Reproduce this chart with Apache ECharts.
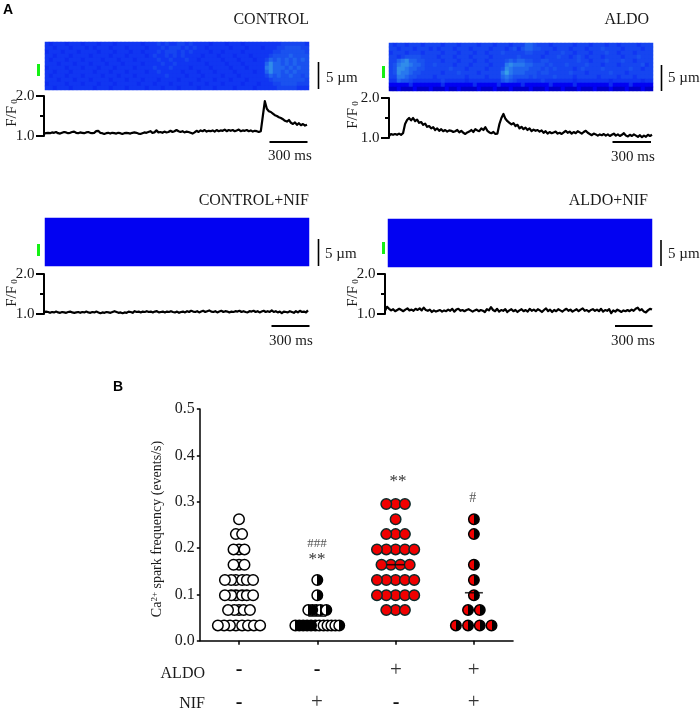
<!DOCTYPE html>
<html><head><meta charset="utf-8">
<script src="https://cdn.jsdelivr.net/npm/echarts@6/dist/echarts.min.js"></script>
<style>html,body{margin:0;padding:0;background:#fff}#c{width:700px;height:710px}</style>
</head><body><div id="c"></div>
<script>
// ---------- line-scan images: fluorescence level per cell (0-9), row by row ----------
const imgControl = [
"32333233323 33233323333 33233343433 44343333233 32333233333 33334444443",
"33233323332 32333233323 33323334344 43434332333 33233323332 33344555544",
"23332333233 33233323332 33233343444 34343333233 23333233333 33445555554",
"33233323333 23333233323 33323433434 34333323332 33323332333 34555565555",
"32333233323 33323332333 23333343343 33433233333 23332333233 46565656565",
"33323332333 23332333233 33233334334 33333332333 32333233333 68665656555",
"23333233323 33233323333 23333433343 33323333233 33233323333 78666565655",
"33233323333 32333233323 33323343333 32333233323 33323333233 68665656555",
"32333233323 33323332333 23333333433 33233323333 23332333333 46565565545",
"33323332333 23333233323 33233323333 23333233323 33233323333 34555555554",
"23333233323 33233323333 32333233323 33323332333 23333233323 33445555444",
"33233323333 32333233323 33323332333 23333233323 33323333233 33344444333"];
const imgAldo = [
"43443444344 44344434444 34443444344 46654443444 44344434443 44344443444",
"44344434443 43444344434 44434443453 56655444344 43444344454 44434444344",
"34443444344 44344434443 44344454444 45544434445 44344434445 44344434444",
"44345555444 43444344434 44434444445 44444344454 43454344434 44434445444",
"44678665544 44344434443 44344445656 65544554444 44454434445 44454434444",
"45788766544 54444344434 44434447877 76655545444 54444544434 44344444534",
"45887665544 44445444344 44344458766 66555454544 44345444454 44444544344",
"45877655444 44344454444 34444479766 65554554444 45444344444 54443444444",
"44776554444 34444444344 44344467655 55454444544 44344444344 44344434444",
"33655433333 33433333233 33333356543 33333433333 33233333333 23333333233",
"11111211111 11211111112 11111211111 21111112111 11211111111 21111211111",
"00100010001 00010010000 10001000100 00100010001 00010001000 10001000100"];
const imgControlNif = ["1"];
const imgAldoNif = ["1"];
const imgPalette = ["#0000c8","#0202f2","#0c2cf0","#1036f2","#1645f0","#1a52ef","#2064ef","#2878ee","#308cea","#38a0e8"];

// ---------- F/F0 traces ----------
const traceControl = [1.06,1.07,1.08,1.07,1.09,1.08,1.10,1.07,1.06,1.08,1.10,1.09,1.07,1.08,1.10,1.11,1.08,1.07,1.09,1.08,
1.07,1.09,1.10,1.08,1.07,1.08,1.12,1.13,1.08,1.07,1.05,1.07,1.08,1.06,1.08,1.07,1.06,1.08,1.07,1.05,
1.07,1.08,1.07,1.06,1.08,1.09,1.08,1.06,1.05,1.07,1.09,1.08,1.10,1.12,1.08,1.09,1.14,1.09,1.10,1.08,
1.11,1.09,1.10,1.13,1.10,1.12,1.15,1.12,1.10,1.12,1.09,1.11,1.10,1.08,1.06,1.09,1.13,1.10,1.14,1.12,
1.15,1.11,1.13,1.12,1.14,1.11,1.15,1.12,1.14,1.13,1.16,1.12,1.15,1.13,1.15,1.12,1.14,1.16,1.12,1.14,
1.13,1.15,1.12,1.14,1.11,1.13,1.12,1.10,1.12,1.50,1.87,1.68,1.62,1.60,1.56,1.52,1.50,1.47,1.45,1.42,
1.38,1.36,1.40,1.33,1.30,1.34,1.28,1.32,1.27,1.30,1.26,1.28];
const traceAldo = [1.05,1.10,1.08,1.10,1.08,1.11,1.08,1.12,1.35,1.45,1.50,1.44,1.50,1.42,1.46,1.38,1.40,1.33,1.36,1.28,
1.30,1.24,1.27,1.20,1.24,1.18,1.22,1.17,1.20,1.16,1.19,1.18,1.15,1.17,1.20,1.14,1.18,1.13,1.10,1.14,
1.16,1.20,1.15,1.22,1.19,1.17,1.24,1.20,1.27,1.18,1.14,1.12,1.15,1.10,1.11,1.35,1.50,1.60,1.48,1.42,
1.38,1.34,1.37,1.30,1.33,1.24,1.28,1.22,1.26,1.20,1.24,1.17,1.21,1.18,1.20,1.16,1.19,1.13,1.17,1.11,
1.15,1.12,1.14,1.16,1.11,1.13,1.10,1.14,1.18,1.13,1.16,1.11,1.15,1.12,1.17,1.14,1.11,1.15,1.18,1.13,
1.10,1.07,1.11,1.09,1.06,1.09,1.07,1.10,1.06,1.09,1.05,1.08,1.11,1.06,1.09,1.05,1.08,1.12,1.06,1.04,
1.08,1.05,1.09,1.06,1.03,1.07,1.02,1.06,1.03,1.08,1.05,1.08];
const traceControlNif = [1.04,1.06,1.05,1.03,1.05,1.04,1.06,1.04,1.03,1.05,1.04,1.03,1.05,1.06,1.04,1.03,1.04,1.05,1.03,1.05,
1.04,1.06,1.04,1.03,1.05,1.04,1.06,1.04,1.02,1.04,1.03,1.05,1.04,1.03,1.05,1.07,1.05,1.03,1.04,1.02,
1.04,1.03,1.06,1.05,1.03,1.07,1.05,1.06,1.04,1.06,1.05,1.07,1.05,1.06,1.04,1.06,1.07,1.04,1.05,1.06,
1.04,1.06,1.05,1.07,1.05,1.04,1.06,1.03,1.05,1.06,1.04,1.07,1.05,1.08,1.06,1.05,1.07,1.04,1.06,1.08,
1.05,1.07,1.09,1.06,1.05,1.07,1.04,1.06,1.08,1.05,1.07,1.06,1.04,1.06,1.05,1.07,1.06,1.08,1.05,1.07,
1.05,1.04,1.07,1.06,1.08,1.05,1.07,1.04,1.06,1.08,1.05,1.07,1.05,1.09,1.05,1.07,1.04,1.06,1.02,1.06,
1.05,1.04,1.07,1.05,1.03,1.07,1.04,1.08,1.05,1.06,1.04,1.09];
const traceAldoNif = [1.08,1.18,1.13,1.09,1.12,1.07,1.10,1.13,1.10,1.07,1.11,1.14,1.09,1.11,1.08,1.13,1.10,1.14,1.09,1.16,
1.10,1.08,1.11,1.05,1.09,1.06,1.08,1.10,1.06,1.09,1.07,1.11,1.08,1.13,1.06,1.11,1.13,1.08,1.10,1.07,
1.10,1.12,1.09,1.06,1.09,1.11,1.07,1.10,1.08,1.05,1.12,1.09,1.17,1.10,1.07,1.13,1.06,1.10,1.08,1.12,
1.05,1.09,1.12,1.07,1.10,1.05,1.09,1.12,1.07,1.10,1.06,1.13,1.08,1.11,1.07,1.12,1.09,1.05,1.10,1.14,
1.07,1.11,1.05,1.10,1.07,1.12,1.09,1.06,1.10,1.13,1.08,1.11,1.06,1.09,1.12,1.07,1.11,1.14,1.08,1.10,
1.06,1.10,1.12,1.08,1.11,1.07,1.13,1.06,1.10,1.08,1.12,1.02,1.09,1.06,1.11,1.08,1.05,1.09,1.07,1.10,
1.07,1.11,1.08,1.13,1.16,1.09,1.12,1.06,1.04,1.09,1.13,1.11];

// ---------- panel B: rows of the swarm. yLevels = Ca2+ spark frequency; each *Rows list holds
//            the horizontal swarm offsets (x-axis units) of the dots in that row ----------
const yLevels = [0.033,0.066,0.098,0.131,0.164,0.197,0.230,0.262,0.295];
const controlRows = [[-.27,-.19,-.115,-.04,.04,.115,.19,.27],[-.14,-.06,0,.06,.14],[-.18,-.10,-.04,.04,.10,.18],[-.18,-.10,-.04,.04,.10,.18],[-.07,0,.07],[-.07,0,.07],[-.04,.04],[0],[]];
const nifRows = [[-.28,-.23,-.18,-.13,-.08,-.025,.025,.08,.13,.18,.23,.28],[-.115,-.065,-.015,.04,.115],[0],[0],[],[],[],[],[]];
const aldoRows = [[],[-.119,0,.119],[-.238,-.119,0,.119,.238],[-.238,-.119,0,.119,.238],[-.18,-.06,.06,.18],[-.238,-.119,0,.119,.238],[-.119,0,.119],[0],[-.119,0,.119]];
const aldoNifRows = [[-.23,-.075,.075,.225],[-.075,.075],[0],[0],[0],[],[0],[0],[]];
const medians = [0.108,0.053,0.164,0.1035];
const yTicks = [0,0.1,0.2,0.3,0.4,0.5];
const aldoSigns = ["-","-","+","+"];
const nifSigns = ["-","+","-","+"];

// ---------- layout ----------
const SERIF = '"Liberation Serif","Times New Roman",serif';
const panels = [
 {img:imgControl, trace:traceControl, title:"CONTROL", imgL:45,imgT:42, axX:44,y2:96,y1:136,tW:263,
  titleR:309,titleY:20, fx:12,fy:113, barX:318.5,barT:62,barB:89, umX:326,umY:78, gX:37,gT:64, sL:269.5,sR:307.5,sY:142,msX:290,msY:156},
 {img:imgAldo, trace:traceAldo, title:"ALDO", imgL:389,imgT:43, axX:389,y2:98,y1:138,tW:263,
  titleR:649,titleY:20, fx:353,fy:115, barX:661.5,barT:65,barB:91, umX:668,umY:78, gX:382,gT:66, sL:612.5,sR:651,sY:142,msX:633,msY:157},
 {img:imgControlNif, trace:traceControlNif, title:"CONTROL+NIF", imgL:45,imgT:218, axX:44,y2:274,y1:314,tW:264,
  titleR:309,titleY:201, fx:12,fy:293, barX:318.5,barT:239,barB:266, umX:325,umY:254, gX:37,gT:244, sL:271.5,sR:309.5,sY:326,msX:291,msY:341},
 {img:imgAldoNif, trace:traceAldoNif, title:"ALDO+NIF", imgL:388,imgT:219, axX:385,y2:274,y1:314,tW:267,
  titleR:648,titleY:201, fx:353,fy:293, barX:661,barT:240,barB:266, umX:668,umY:254, gX:382,gT:242, sL:615,sR:652.5,sY:326,msX:633,msY:341}
];

const grids=[], xAxes=[], yAxes=[], series=[], gfx=[];
function txt(x,y,text,size,o){ gfx.push(Object.assign({type:'text',x,y,silent:true,style:Object.assign({text,font:`${size}px ${SERIF}`,fill:'#1a1a1a',align:'center',verticalAlign:'middle'},o||{})})); }
function line(x1,y1,x2,y2,w){ gfx.push({type:'line',silent:true,shape:{x1,y1,x2,y2},style:{stroke:'#000',lineWidth:w||1.6}}); }

const heatIdx=[];
panels.forEach(p=>{
  // image
  const rows=p.img.map(r=>r.replace(/ /g,''));
  const g=grids.length;
  grids.push({left:p.imgL,top:p.imgT,width:264,height:48,containLabel:false});
  xAxes.push({type:'category',gridIndex:g,show:false,data:rows[0].split('').map((_,i)=>i)});
  yAxes.push({type:'category',gridIndex:g,show:false,inverse:true,data:rows.map((_,i)=>i)});
  const d=[]; rows.forEach((r,j)=>r.split('').forEach((c,i)=>d.push([i,j,+c])));
  heatIdx.push(series.length);
  series.push({type:'heatmap',xAxisIndex:g,yAxisIndex:g,data:d,silent:true,animation:false,progressive:0,itemStyle:{borderWidth:0}});
  // trace
  const t=grids.length;
  grids.push({left:p.axX,top:p.y2,width:p.tW,height:p.y1-p.y2});
  xAxes.push({type:'category',gridIndex:t,show:false,boundaryGap:false,data:p.trace.map((_,i)=>i)});
  yAxes.push({type:'value',gridIndex:t,min:1,max:2,interval:1,
    axisLine:{show:true,lineStyle:{color:'#000',width:2}},
    axisTick:{show:true,length:8,lineStyle:{color:'#000',width:2}},
    minorTick:{show:true,splitNumber:2,length:4,lineStyle:{color:'#000',width:2}},
    splitLine:{show:false},minorSplitLine:{show:false},
    axisLabel:{margin:9.5,fontFamily:SERIF,fontSize:15,color:'#1a1a1a',formatter:v=>v.toFixed(1)}});
  series.push({type:'line',xAxisIndex:t,yAxisIndex:t,data:p.trace,symbol:'none',silent:true,animation:false,clip:false,
    lineStyle:{color:'#000',width:2.2,join:'round'}});
  // annotations
  txt(p.titleR,p.titleY,p.title,16,{align:'right'});
  gfx.push({type:'text',x:p.fx,y:p.fy,rotation:Math.PI/2,silent:true,style:{text:'{a|F/F}{s| 0}',align:'center',verticalAlign:'middle',
    rich:{a:{font:`15px ${SERIF}`,fill:'#1a1a1a'},s:{font:`9px ${SERIF}`,fill:'#1a1a1a',verticalAlign:'bottom'}}}});
  line(p.barX,p.barT,p.barX,p.barB,1.6);
  txt(p.umX,p.umY,'5 \u00b5m',15,{align:'left'});
  gfx.push({type:'rect',silent:true,shape:{x:p.gX,y:p.gT,width:3,height:12},style:{fill:'#14f014'}});
  line(p.sL,p.sY,p.sR,p.sY,1.8);
  txt(p.msX,p.msY,'300 ms',15);
});

// ---------- panel B ----------
const b=grids.length;
grids.push({left:199.85,top:409,width:313.2,height:231.7});
xAxes.push({type:'value',gridIndex:b,min:0.5,max:4.5,splitLine:{show:false},
  axisLine:{show:true,onZero:false,lineStyle:{color:'#000',width:1.5}},
  axisTick:{show:true,customValues:[1,2,3,4],length:4,lineStyle:{color:'#000',width:1.5}},
  axisLabel:{show:false}});
yAxes.push({type:'value',gridIndex:b,min:0,max:0.5,interval:0.1,splitLine:{show:false},
  axisLine:{show:true,lineStyle:{color:'#000',width:1.5}},
  axisTick:{show:true,length:3,lineStyle:{color:'#000',width:1.5}},
  axisLabel:{margin:5,fontFamily:SERIF,fontSize:16,color:'#1a1a1a',formatter:v=>yTicks.includes(v)?v.toFixed(1):''}});
function half(l,r){return {type:'linear',x:0,y:0,x2:1,y2:0,colorStops:[{offset:0,color:l},{offset:.5,color:l},{offset:.5,color:r},{offset:1,color:r}]};}
function swarm(rows,center,fill,border){
  const d=[];
  rows.forEach((r,i)=>{ [...r].sort((u,v)=>Math.abs(u)-Math.abs(v)).forEach(o=>d.push([center+o,yLevels[i]])); });
  series.push({type:'scatter',xAxisIndex:b,yAxisIndex:b,data:d,symbol:'circle',symbolSize:10.5,silent:true,animation:false,
    itemStyle:{color:fill,borderColor:border,borderWidth:1.5,opacity:1}});
}
swarm(controlRows,1,'#fff','#000');
swarm(nifRows,2,half('#fff','#000'),'#000');
swarm(aldoRows,3,'#f00000','#0b2b2b');
swarm(aldoNifRows,4,half('#f00000','#000'),'#000');
series.push({type:'scatter',xAxisIndex:b,yAxisIndex:b,data:medians.map((m,i)=>[i+1,m]),symbol:'rect',symbolSize:[18,1.6],silent:true,animation:false,z:5,
  itemStyle:{color:'#000'}});

// stars / hashes
txt(317,560,'**',17,{fill:'#333'});
txt(317,543.5,'###',13,{fill:'#555'});
txt(398,482,'**',17,{fill:'#333'});
txt(472.7,498,'#',14,{fill:'#555'});
// y-axis title
gfx.push({type:'text',x:157,y:529,rotation:Math.PI/2,silent:true,style:{text:'{a|Ca}{s|2+}{a| spark frequency (events/s)}',align:'center',verticalAlign:'middle',
  rich:{a:{font:`14px ${SERIF}`,fill:'#1a1a1a'},s:{font:`9px ${SERIF}`,fill:'#1a1a1a',verticalAlign:'top'}}}});
// treatment table
const centers=[239,317,396,473.7];
txt(205,674,'ALDO',16,{align:'right'});
txt(205,703.5,'NIF',16,{align:'right'});
function sign(x,y,s){ if(s==='-') txt(x,y,'-',20,{font:`bold 20px ${SERIF}`,fill:'#111'}); else txt(x,y,'+',21,{fill:'#333'}); }
aldoSigns.forEach((s,i)=>sign(centers[i],670,s));
nifSigns.forEach((s,i)=>sign(centers[i],s==='+'?702:703,s));
// panel letters
gfx.push({type:'text',x:3,y:3,silent:true,style:{text:'A',font:'bold 14px "Liberation Sans",Arial,sans-serif',fill:'#000'}});
gfx.push({type:'text',x:113,y:380,silent:true,style:{text:'B',font:'bold 14px "Liberation Sans",Arial,sans-serif',fill:'#000'}});

const chart=echarts.init(document.getElementById('c'),null,{renderer:'canvas'});
chart.setOption({animation:false,backgroundColor:'#fff',grid:grids,xAxis:xAxes,yAxis:yAxes,series,
  visualMap:{type:'continuous',show:false,min:0,max:9,dimension:2,seriesIndex:heatIdx,inRange:{color:imgPalette}},
  graphic:{elements:gfx}});
</script></body></html>
